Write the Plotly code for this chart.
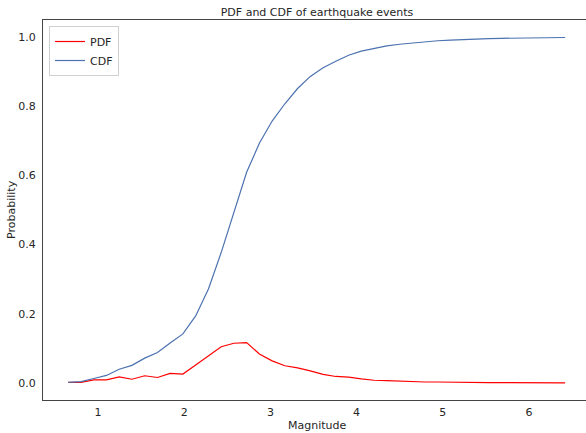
import plotly.graph_objects as go

magnitude = [0.655, 0.803, 0.951, 1.098, 1.246, 1.394, 1.542, 1.690, 1.837, 1.985,
             2.133, 2.281, 2.429, 2.576, 2.724, 2.872, 3.020, 3.168, 3.315, 3.463,
             3.611, 3.759, 3.907, 4.054, 4.202, 4.350, 4.498, 4.646, 4.793, 4.941,
             5.089, 5.237, 5.385, 5.532, 5.680, 5.828, 5.976, 6.124, 6.271, 6.419]

pdf = [0.002, 0.002, 0.009, 0.009, 0.018, 0.011, 0.021, 0.016, 0.028, 0.026,
       0.052, 0.078, 0.105, 0.115, 0.117, 0.084, 0.064, 0.050, 0.044, 0.035,
       0.025, 0.019, 0.017, 0.012, 0.008, 0.007, 0.005, 0.004, 0.003, 0.003,
       0.002, 0.002, 0.001, 0.001, 0.001, 0.0005, 0.0005, 0.0005, 0.0005, 0.0005]

cdf = [0.002, 0.004, 0.013, 0.022, 0.040, 0.051, 0.072, 0.088, 0.116, 0.142,
       0.194, 0.272, 0.377, 0.492, 0.609, 0.693, 0.757, 0.807, 0.851, 0.886,
       0.911, 0.930, 0.947, 0.959, 0.967, 0.974, 0.979, 0.983, 0.986, 0.989,
       0.991, 0.993, 0.994, 0.995, 0.996, 0.9965, 0.997, 0.9975, 0.998, 0.9985]

x_ticks = [1, 2, 3, 4, 5, 6]
y_ticks = [0.0, 0.2, 0.4, 0.6, 0.8, 1.0]

FONT = "DejaVu Sans"
TXT = "#262626"
SPINE = "#444444"

W, H = 586, 433
L, R, T, B = 43, 0, 20, 33
PW, PH = W - L - R, H - T - B

fig = go.Figure()
fig.add_trace(go.Scatter(x=magnitude, y=pdf, mode="lines", name="PDF",
                         line=dict(color="#ff0000", width=1.2)))
fig.add_trace(go.Scatter(x=magnitude, y=cdf, mode="lines", name="CDF",
                         line=dict(color="#4c72b0", width=1.2)))

fig.update_layout(
    width=W, height=H,
    margin=dict(l=L, r=R, t=T, b=B, autoexpand=False),
    paper_bgcolor="white", plot_bgcolor="white",
    font=dict(family=FONT, size=11, color=TXT),
    title=dict(text="PDF and CDF of earthquake events", font=dict(size=11, color=TXT),
               x=(317 - L) / PW, xref="paper", xanchor="center",
               y=1 - 12 / H, yref="container", yanchor="middle"),
    showlegend=True,
    legend=dict(x=(49 - L) / PW, y=1 - (26 - T) / PH, xanchor="left", yanchor="top",
                bgcolor="rgba(255,255,255,0.8)", bordercolor="#d0d0d0", borderwidth=1,
                font=dict(size=11, color=TXT), itemwidth=30, tracegroupgap=0),
    xaxis=dict(range=[0.362, 6.661], tickvals=x_ticks, ticktext=[str(v) for v in x_ticks],
               showgrid=False, zeroline=False, showline=True, linecolor=SPINE, linewidth=1.25,
               mirror=True, ticks="", tickfont=dict(size=11, color=TXT), automargin=False,
               ticklabelstandoff=2),
    yaxis=dict(range=[-0.049, 1.049], tickvals=y_ticks, ticktext=[f"{v:.1f}" for v in y_ticks],
               showgrid=False, zeroline=False, showline=True, linecolor=SPINE, linewidth=1.25,
               mirror=False, ticks="", tickfont=dict(size=11, color=TXT), automargin=False,
               ticklabelstandoff=4),
    annotations=[
        dict(text="Magnitude", xref="paper", yref="paper", x=(317 - L) / PW, y=-(425 - (T + PH)) / PH,
             xanchor="center", yanchor="middle", showarrow=False, font=dict(size=11, color=TXT)),
        dict(text="Probability", xref="paper", yref="paper", x=-(L - 11) / PW, y=0.5,
             xanchor="center", yanchor="middle", textangle=-90, showarrow=False,
             font=dict(size=11, color=TXT)),
    ],
)

fig.write_html("out.html", config={"displayModeBar": False},
               post_script="document.body.style.margin='0';document.body.style.overflow='hidden';")
